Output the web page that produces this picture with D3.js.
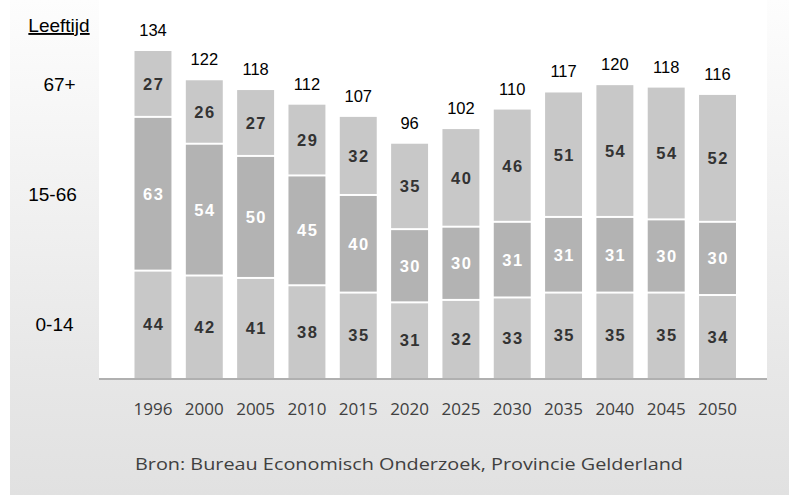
<!DOCTYPE html>
<html>
<head>
<meta charset="utf-8">
<script src="https://cdn.jsdelivr.net/npm/d3@7"></script>
<style>
  html, body { margin: 0; padding: 0; background: #ffffff; }
  svg { display: block; }
</style>
</head>
<body>
<svg id="chart" width="789" height="495"></svg>
<script>
const years = ["1996","2000","2005","2010","2015","2020","2025","2030","2035","2040","2045","2050"];
const age0_14  = [44, 42, 41, 38, 35, 31, 32, 33, 35, 35, 35, 34];
const age15_66 = [63, 54, 50, 45, 40, 30, 30, 31, 31, 31, 30, 30];
const age67    = [27, 26, 27, 29, 32, 35, 40, 46, 51, 54, 54, 52];
const totals   = [134, 122, 118, 112, 107, 96, 102, 110, 117, 120, 118, 116];
const groupLabels = ["0-14", "15-66", "67+"];
const axisTitle = "Leeftijd";
const source = "Bron: Bureau Economisch Onderzoek, Provincie Gelderland";

const svg = d3.select("#chart");
const W = 789, H = 495;

// background gradient panel
const defs = svg.append("defs");
const grad = defs.append("linearGradient").attr("id", "bg").attr("x1", 0).attr("y1", 0).attr("x2", 0).attr("y2", 1);
grad.append("stop").attr("offset", "0%").attr("stop-color", "#fdfdfd");
grad.append("stop").attr("offset", "75%").attr("stop-color", "#e7e7e7");
grad.append("stop").attr("offset", "100%").attr("stop-color", "#e1e1e1");
svg.append("rect").attr("x", 10).attr("y", 0).attr("width", W - 10).attr("height", H).attr("fill", "url(#bg)");

// plot area
const plot = { left: 99, right: 767, top: 0, bottom: 378 };
svg.append("rect").attr("x", plot.left).attr("y", plot.top)
  .attr("width", plot.right - plot.left).attr("height", plot.bottom - plot.top).attr("fill", "#ffffff");

const x = d3.scaleBand().domain(years).range([134.5, 736]).paddingInner(0.28).paddingOuter(0);
const y = d3.scaleLinear().domain([0, 134]).range([plot.bottom, 51]);

const keys = ["a", "b", "c"];
const rows = years.map((yr, i) => ({ year: yr, a: age0_14[i], b: age15_66[i], c: age67[i], total: totals[i] }));
const stacked = d3.stack().keys(keys)(rows);
const fills = ["#c8c8c8", "#b3b3b3", "#c8c8c8"];
const labelFill = ["#333333", "#ffffff", "#333333"];

stacked.forEach((layer, li) => {
  const g = svg.append("g");
  g.selectAll("rect").data(layer).enter().append("rect")
    .attr("x", d => x(d.data.year))
    .attr("width", x.bandwidth())
    .attr("y", d => y(d[1]) + (li === 2 ? 0 : 1))
    .attr("height", d => (y(d[0]) - (li === 0 ? 0 : 1)) - (y(d[1]) + (li === 2 ? 0 : 1)))
    .attr("fill", fills[li]);
  g.selectAll("text").data(layer).enter().append("text")
    .attr("x", d => x(d.data.year) + x.bandwidth() / 2 + 0.75)
    .attr("y", d => (y(d[0]) + y(d[1])) / 2 + 6)
    .attr("text-anchor", "middle")
    .attr("font-family", "Liberation Sans, Arial, sans-serif")
    .attr("font-weight", "bold")
    .attr("font-size", "16.5px")
    .attr("letter-spacing", "1.5px")
    .attr("fill", labelFill[li])
    .text(d => d[1] - d[0]);
});

// totals
svg.append("g").selectAll("text").data(stacked[2]).enter().append("text")
  .attr("x", d => x(d.data.year) + x.bandwidth() / 2)
  .attr("y", d => y(d[1]) - 15)
  .attr("text-anchor", "middle")
  .attr("font-family", "Liberation Sans, Arial, sans-serif")
  .attr("font-size", "16.5px")
  .attr("fill", "#000000")
  .text(d => d.data.total);

// axis line
svg.append("line").attr("x1", plot.left).attr("x2", plot.right)
  .attr("y1", plot.bottom + 1).attr("y2", plot.bottom + 1)
  .attr("stroke", "#b0b0b0").attr("stroke-width", 2);

// x axis labels
const xAxis = d3.axisBottom(x).tickSize(0).tickPadding(0);
const ax = svg.append("g").attr("transform", `translate(0,${plot.bottom})`).call(xAxis);
ax.select(".domain").remove();
ax.selectAll("text")
  .attr("y", 37)
  .attr("dy", 0)
  .attr("font-family", "Open Sans, sans-serif")
  .attr("font-size", "17px")
  .attr("fill", "#404040");

// left group labels at 1996 segment centers
const labelX = [54.5, 52.5, 59.5];
stacked.forEach((layer, li) => {
  const d = layer[0];
  svg.append("text")
    .attr("x", labelX[li])
    .attr("y", (y(d[0]) + y(d[1])) / 2 + 7)
    .attr("text-anchor", "middle")
    .attr("font-family", "Liberation Sans, Arial, sans-serif")
    .attr("font-size", "19px")
    .attr("fill", "#000000")
    .text(groupLabels[li]);
});

svg.append("text")
  .attr("x", 59).attr("y", 32)
  .attr("text-anchor", "middle")
  .attr("font-family", "Liberation Sans, Arial, sans-serif")
  .attr("font-size", "19px")
  .attr("text-decoration", "underline")
  .attr("fill", "#000000")
  .text(axisTitle);

svg.append("text")
  .attr("x", 135).attr("y", 470)
  .attr("font-family", "Open Sans, sans-serif")
  .attr("font-size", "17px")
  .attr("fill", "#404040")
  .attr("textLength", 548)
  .attr("lengthAdjust", "spacingAndGlyphs")
  .text(source);
</script>
</body>
</html>
